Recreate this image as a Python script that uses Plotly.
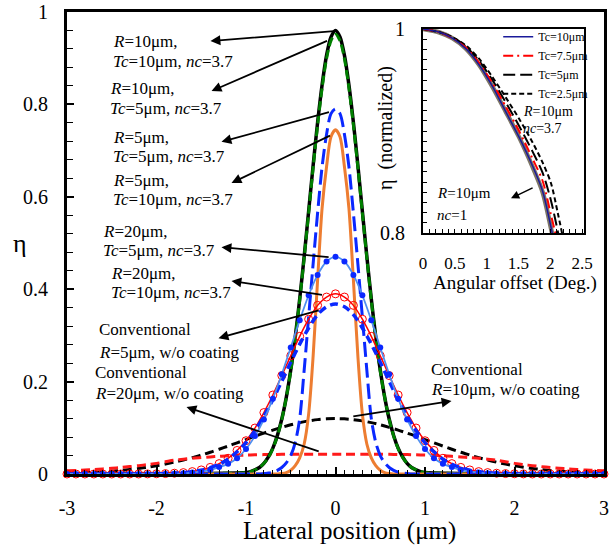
import plotly.graph_objects as go

FONT = "Liberation Serif"

# ---------------- main chart data ----------------
x_grid = [-3.0, -2.9, -2.8, -2.7, -2.6, -2.5, -2.4, -2.3, -2.2, -2.1, -2.0,
          -1.9, -1.8, -1.7, -1.6, -1.5, -1.4, -1.3, -1.2, -1.1, -1.0,
          -0.9, -0.8, -0.7, -0.6, -0.5, -0.4, -0.3, -0.2, -0.1, 0.0,
          0.1, 0.2, 0.3, 0.4, 0.5, 0.6, 0.7, 0.8, 0.9, 1.0,
          1.1, 1.2, 1.3, 1.4, 1.5, 1.6, 1.7, 1.8, 1.9, 2.0,
          2.1, 2.2, 2.3, 2.4, 2.5, 2.6, 2.7, 2.8, 2.9, 3.0]

x_fine = [-3.0, -1.0, -0.95, -0.9, -0.85, -0.8, -0.75, -0.7, -0.65, -0.6, -0.55,
          -0.5, -0.45, -0.4, -0.35, -0.3, -0.25, -0.2, -0.15, -0.1, -0.05, 0.0,
          0.05, 0.1, 0.15, 0.2, 0.25, 0.3, 0.35, 0.4, 0.45, 0.5,
          0.55, 0.6, 0.65, 0.7, 0.75, 0.8, 0.85, 0.9, 0.95, 1.0, 3.0]

# R=10um, Tc=10um, nc=3.7 (black solid)
eta_r10_tc10 = [0, 0.003, 0.005, 0.009, 0.014, 0.023, 0.037, 0.056, 0.083, 0.119, 0.166,
                0.225, 0.296, 0.379, 0.471, 0.569, 0.668, 0.761, 0.842, 0.906, 0.946, 0.96,
                0.946, 0.906, 0.842, 0.761, 0.668, 0.569, 0.471, 0.379, 0.296, 0.225,
                0.166, 0.119, 0.083, 0.056, 0.037, 0.023, 0.014, 0.009, 0.005, 0.003, 0]
# R=10um, Tc=5um, nc=3.7 (green dashed)
eta_r10_tc5 = [0, 0.003, 0.005, 0.009, 0.014, 0.023, 0.036, 0.055, 0.082, 0.118, 0.165,
               0.223, 0.294, 0.376, 0.468, 0.565, 0.663, 0.755, 0.835, 0.899, 0.938, 0.952,
               0.938, 0.899, 0.835, 0.755, 0.663, 0.565, 0.468, 0.376, 0.294, 0.223,
               0.165, 0.118, 0.082, 0.055, 0.036, 0.023, 0.014, 0.009, 0.005, 0.003, 0]
# R=5um, Tc=5um, nc=3.7 (blue long dash)
eta_r5_tc5 = [0, 0, 0, 0, 0, 0.001, 0.002, 0.004, 0.008, 0.014, 0.024,
              0.04, 0.068, 0.12, 0.225, 0.34, 0.455, 0.565, 0.665, 0.735, 0.78, 0.79,
              0.78, 0.735, 0.665, 0.565, 0.455, 0.34, 0.225, 0.12, 0.068, 0.04,
              0.024, 0.014, 0.008, 0.004, 0.002, 0.001, 0, 0, 0, 0, 0]
# R=5um, Tc=10um, nc=3.7 (orange)
eta_r5_tc10 = [0, 0, 0, 0, 0, 0, 0, 0, 0, 0.001, 0.003,
               0.008, 0.018, 0.035, 0.065, 0.13, 0.255, 0.42, 0.575, 0.665, 0.73, 0.745,
               0.73, 0.665, 0.575, 0.42, 0.255, 0.13, 0.065, 0.035, 0.018, 0.008,
               0.003, 0.001, 0, 0, 0, 0, 0, 0, 0, 0, 0]
# R=20um, Tc=5um, nc=3.7 (light blue + dots)
eta_r20_tc5 = [0, 0, 0, 0, 0, 0, 0, 0, 0, 0, 0,
               0.0003, 0.0007, 0.0015, 0.003, 0.005, 0.009, 0.015, 0.022, 0.034, 0.054,
               0.082, 0.118, 0.163, 0.216, 0.274, 0.333, 0.387, 0.431, 0.46, 0.47,
               0.46, 0.431, 0.387, 0.333, 0.274, 0.216, 0.163, 0.118, 0.082, 0.054,
               0.034, 0.022, 0.015, 0.009, 0.005, 0.003, 0.0015, 0.0007, 0.0003, 0,
               0, 0, 0, 0, 0, 0, 0, 0, 0, 0]
# R=20um, Tc=10um, nc=3.7 (red + open circles)
eta_r20_tc10 = [0, 0, 0, 0, 0, 0, 0, 0, 0, 0.0002, 0.0005,
                0.0009, 0.0017, 0.003, 0.0052, 0.0088, 0.0143, 0.0225, 0.034, 0.051, 0.072,
                0.0995, 0.133, 0.171, 0.213, 0.256, 0.298, 0.335, 0.365, 0.383, 0.39,
                0.383, 0.365, 0.335, 0.298, 0.256, 0.213, 0.171, 0.133, 0.0995, 0.072,
                0.051, 0.034, 0.0225, 0.0143, 0.0088, 0.0052, 0.003, 0.0017, 0.0009, 0.0005,
                0.0002, 0, 0, 0, 0, 0, 0, 0, 0, 0]
# Conventional R=5um, w/o coating (blue short dash)
eta_conv_r5 = [0, 0, 0, 0, 0, 0, 0, 0, 0, 0, 0.0004,
               0.0008, 0.0016, 0.0028, 0.005, 0.0083, 0.0135, 0.021, 0.032, 0.048, 0.068,
               0.094, 0.125, 0.161, 0.201, 0.242, 0.281, 0.316, 0.345, 0.362, 0.368,
               0.362, 0.345, 0.316, 0.281, 0.242, 0.201, 0.161, 0.125, 0.094, 0.068,
               0.048, 0.032, 0.021, 0.0135, 0.0083, 0.005, 0.0028, 0.0016, 0.0008, 0.0004,
               0, 0, 0, 0, 0, 0, 0, 0, 0, 0]
# Conventional R=10um, w/o coating (black dash)
eta_conv_r10 = [0.0016, 0.0022, 0.0029, 0.0037, 0.0048, 0.0061, 0.0077, 0.0097, 0.012, 0.0147, 0.0179,
                0.0215, 0.0256, 0.0303, 0.0354, 0.0411, 0.047, 0.0536, 0.0604, 0.0675, 0.0745,
                0.0818, 0.0885, 0.0951, 0.101, 0.1065, 0.1112, 0.115, 0.1177, 0.1194, 0.12,
                0.1194, 0.1177, 0.115, 0.1112, 0.1065, 0.101, 0.0951, 0.0885, 0.0818, 0.0745,
                0.0675, 0.0604, 0.0536, 0.047, 0.0411, 0.0354, 0.0303, 0.0256, 0.0215, 0.0179,
                0.0147, 0.012, 0.0097, 0.0077, 0.0061, 0.0048, 0.0037, 0.0029, 0.0022, 0.0016]
# Conventional R=20um, w/o coating (red dash)
eta_conv_r20 = [0.007, 0.0077, 0.0085, 0.0097, 0.011, 0.0125, 0.014, 0.016, 0.018, 0.0205, 0.023,
                0.0265, 0.030, 0.032, 0.034, 0.0355, 0.037, 0.0383, 0.0395, 0.0403, 0.041,
                0.0415, 0.042, 0.0423, 0.0425, 0.0427, 0.0428, 0.043, 0.043, 0.043, 0.043,
                0.043, 0.043, 0.043, 0.0428, 0.0427, 0.0425, 0.0423, 0.042, 0.0415, 0.041,
                0.0403, 0.0395, 0.0383, 0.037, 0.0355, 0.034, 0.032, 0.030, 0.0265, 0.023,
                0.0205, 0.018, 0.016, 0.014, 0.0125, 0.011, 0.0097, 0.0085, 0.0077, 0.007]

x_ticks = [-3, -2, -1, 0, 1, 2, 3]
x_ticktext = ["-3", "-2", "-1", "0", "1", "2", "3"]
y_ticks = [0, 0.2, 0.4, 0.6, 0.8, 1]
y_ticktext = ["0", "0.2", "0.4", "0.6", "0.8", "1"]

# ---------------- inset data ----------------
ang = [0, 0.25, 0.46, 0.67, 0.88, 1.09, 1.30, 1.51, 1.72, 1.88, 2.01, 2.12, 2.3]
inset_nc1 = [1, 0.9968, 0.991, 0.981, 0.965, 0.9435, 0.919, 0.894, 0.865, 0.840, 0.805, 0.772, 0.72]
inset_tc10 = [1, 0.997, 0.991, 0.981, 0.965, 0.944, 0.919, 0.894, 0.866, 0.841, 0.806, 0.773, 0.72]
inset_tc75 = [1, 0.997, 0.991, 0.982, 0.967, 0.947, 0.924, 0.900, 0.873, 0.851, 0.818, 0.789, 0.735]
inset_tc5 = [1, 0.997, 0.992, 0.983, 0.969, 0.950, 0.928, 0.905, 0.880, 0.859, 0.832, 0.801, 0.745]
inset_tc25 = [1, 0.997, 0.992, 0.984, 0.971, 0.953, 0.933, 0.912, 0.889, 0.869, 0.849, 0.819, 0.765]
inset_xticks = [0, 0.5, 1, 1.5, 2, 2.5]
inset_xticktext = ["0", "0.5", "1", "1.5", "2", "2.5"]
inset_yticks = [0.8, 1]
inset_yticktext = ["0.8", "1"]

fig = go.Figure()

def line(x, y, color, width, dash="solid", **kw):
    fig.add_trace(go.Scatter(x=x, y=y, mode="lines",
                             line=dict(color=color, width=width, dash=dash, shape="spline", smoothing=0.8),
                             showlegend=False, hoverinfo="skip", **kw))

line(x_grid, eta_conv_r10, "#000000", 3, "9px,5px")
line(x_grid, eta_conv_r20, "#ff1a1a", 3, "9px,5px")
line(x_fine, eta_r10_tc10, "#000000", 3.5)
line(x_fine, eta_r10_tc5, "#008000", 3, "9px,4px")
line(x_fine, eta_r5_tc10, "#ed7d31", 3)
line(x_fine, eta_r5_tc5, "#0a28ff", 3, "15px,6px")
fig.add_trace(go.Scatter(x=x_grid, y=eta_r20_tc10, mode="lines+markers", cliponaxis=False,
                         line=dict(color="#ff0000", width=1.5, shape="spline", smoothing=0.8),
                         marker=dict(symbol="circle-open", size=8, color="#ff0000", line=dict(width=1)),
                         showlegend=False, hoverinfo="skip"))
line(x_grid, eta_conv_r5, "#0a28ff", 3.5, "8px,5px")
fig.add_trace(go.Scatter(x=x_grid, y=eta_r20_tc5, mode="lines+markers", cliponaxis=False,
                         line=dict(color="#4f8ff0", width=1.8, shape="spline", smoothing=0.8),
                         marker=dict(symbol="circle", size=6, color="#0a28ff"),
                         showlegend=False, hoverinfo="skip"))

# inset traces
def iline(y, color, width, dash="solid", name=None, legend=False):
    fig.add_trace(go.Scatter(x=ang, y=y, xaxis="x2", yaxis="y2", mode="lines", name=name,
                             line=dict(color=color, width=width, dash=dash, shape="spline", smoothing=0.8),
                             showlegend=legend, hoverinfo="skip"))

iline(inset_nc1, "#7d7565", 4.5)
iline(inset_tc25, "#000000", 2, "5px,3px", "Tc=2.5μm", True)
iline(inset_tc5, "#000000", 2, "12px,5px", "Tc=5μm", True)
iline(inset_tc75, "#ff0000", 2, "10px,4px,2px,4px", "Tc=7.5μm", True)
iline(inset_tc10, "#1a1a9a", 1.5, "solid", "Tc=10μm", True)

axis_common = dict(showgrid=False, zeroline=False, showline=True, mirror=True, automargin=False,
                   ticklabeloverflow="allow", linecolor="black", ticks="inside", tickcolor="black")

fig.update_layout(
    width=609, height=546,
    margin=dict(l=67, r=5, t=12, b=72, autoexpand=False),
    plot_bgcolor="white", paper_bgcolor="white",
    font=dict(family=FONT, color="black"),
    xaxis=dict(range=[-3, 3], tickvals=x_ticks, ticktext=x_ticktext, ticklen=7, tickwidth=1.5,
               linewidth=3, tickfont=dict(size=20), ticklabelstandoff=14,
               minor=dict(dtick=0.1, tick0=0, ticks="inside", ticklen=4, tickcolor="black", tickwidth=1.2),
               **axis_common),
    yaxis=dict(range=[0, 1], tickvals=y_ticks, ticktext=y_ticktext, ticklen=7, tickwidth=1.5,
               linewidth=3, tickfont=dict(size=20), ticklabelstandoff=12,
               minor=dict(dtick=0.04, tick0=0, ticks="inside", ticklen=6, tickcolor="black", tickwidth=1.2),
               **axis_common),
    xaxis2=dict(domain=[0.6629, 0.9628], anchor="y2", range=[0, 2.53],
                tickvals=inset_xticks, ticktext=inset_xticktext, ticklen=0,
                linewidth=2, tickfont=dict(size=17), ticklabelstandoff=14,
                minor=dict(dtick=0.1, tick0=0, ticks="inside", ticklen=4, tickcolor="black"),
                **axis_common),
    yaxis2=dict(domain=[0.5216, 0.9632], anchor="x2", range=[0.8, 1],
                tickvals=inset_yticks, ticktext=inset_yticktext, ticklen=0,
                linewidth=2, tickfont=dict(size=20), ticklabelstandoff=12,
                minor=dict(dtick=0.01, tick0=0.8, ticks="inside", ticklen=4, tickcolor="black"),
                **axis_common),
    legend=dict(x=0.803, y=0.978, xanchor="left", yanchor="top", bgcolor="rgba(0,0,0,0)",
                font=dict(size=12, family=FONT), traceorder="reversed", itemwidth=30,
                tracegroupgap=0),
    showlegend=True,
)

annotations = []

def txt(x, y, text, size=17, xref="x", yref="y", **kw):
    annotations.append(dict(x=x, y=y, xref=xref, yref=yref, text=text, showarrow=False,
                            xanchor=kw.pop("xanchor", "left"), yanchor=kw.pop("yanchor", "middle"),
                            font=dict(size=size, family=FONT, color="black"), **kw))

def arrow(hx, hy, tx, ty, xref="x", yref="y", width=1.8):
    annotations.append(dict(x=hx, y=hy, ax=tx, ay=ty, xref=xref, yref=yref, axref=xref, ayref=yref,
                            text="", showarrow=True, arrowhead=2, arrowsize=1.1, arrowwidth=width,
                            arrowcolor="black", standoff=0, startstandoff=0))

labels = [
    (-2.514, 0.937, "<i>R</i>=10μm,"), (-2.514, 0.892, "<i>Tc</i>=10μm, <i>nc</i>=3.7"),
    (-2.547, 0.835, "<i>R</i>=10μm,"), (-2.547, 0.792, "<i>Tc</i>=5μm, <i>nc</i>=3.7"),
    (-2.503, 0.729, "<i>R</i>=5μm,"), (-2.503, 0.688, "<i>Tc</i>=5μm, <i>nc</i>=3.7"),
    (-2.503, 0.636, "<i>R</i>=5μm,"), (-2.503, 0.595, "<i>Tc</i>=10μm, <i>nc</i>=3.7"),
    (-2.615, 0.524, "<i>R</i>=20μm,"), (-2.615, 0.483, "<i>Tc</i>=5μm, <i>nc</i>=3.7"),
    (-2.536, 0.435, "<i>R</i>=20μm,"), (-2.536, 0.392, "<i>Tc</i>=10μm, <i>nc</i>=3.7"),
    (-2.670, 0.312, "Conventional"), (-2.670, 0.264, "<i>R</i>=5μm, w/o coating"),
    (-2.715, 0.219, "Conventional"), (-2.715, 0.175, "<i>R</i>=20μm, w/o coating"),
    (1.050, 0.227, "Conventional"), (1.050, 0.182, "<i>R</i>=10μm, w/o coating"),
]
for lx, ly, lt in labels:
    txt(lx, ly, lt)

arrows = [
    (-1.397, 0.937, 0.0, 0.959),
    (-1.385, 0.829, -0.078, 0.939),
    (-1.274, 0.719, -0.056, 0.784),
    (-1.162, 0.630, -0.045, 0.734),
    (-1.274, 0.491, -0.06, 0.469),
    (-1.162, 0.418, -0.134, 0.387),
    (-1.307, 0.294, -0.171, 0.355),
    (-1.665, 0.145, -0.171, 0.048),
    (1.296, 0.158, 0.182, 0.124),
]
for a in arrows:
    arrow(*a)

# inset texts
txt(1.54, 0.9196, "<i>R</i>=10μm", size=14, xref="x2", yref="y2")
txt(1.54, 0.9029, "<i>nc</i>=3.7", size=14, xref="x2", yref="y2")
txt(0.185, 0.839, "<i>R</i>=10μm", size=15, xref="x2", yref="y2")
txt(0.185, 0.8176, "<i>nc</i>=1", size=15, xref="x2", yref="y2")
arrow(1.383, 0.834, 1.746, 0.845, xref="x2", yref="y2", width=1.5)

# axis titles
txt(0.527, -0.1234, "Lateral position (μm)", size=25, xref="paper", yref="paper", xanchor="center")
txt(-0.0875, 0.5, "η", size=26, xref="paper", yref="paper", xanchor="center")
txt(0.834, 0.413, "Angular offset (Deg.)", size=19, xref="paper", yref="paper", xanchor="center")
txt(0.594, 0.749, "η  (normalized)", size=20, xref="paper", yref="paper", xanchor="center", textangle=-90)

fig.update_layout(annotations=annotations)

# remove the browser's default 8px page margin so the figure fills the window exactly
fig.write_html("out.html", config={"displayModeBar": False},
               post_script="document.body.style.margin='0';document.body.style.overflow='hidden';")
